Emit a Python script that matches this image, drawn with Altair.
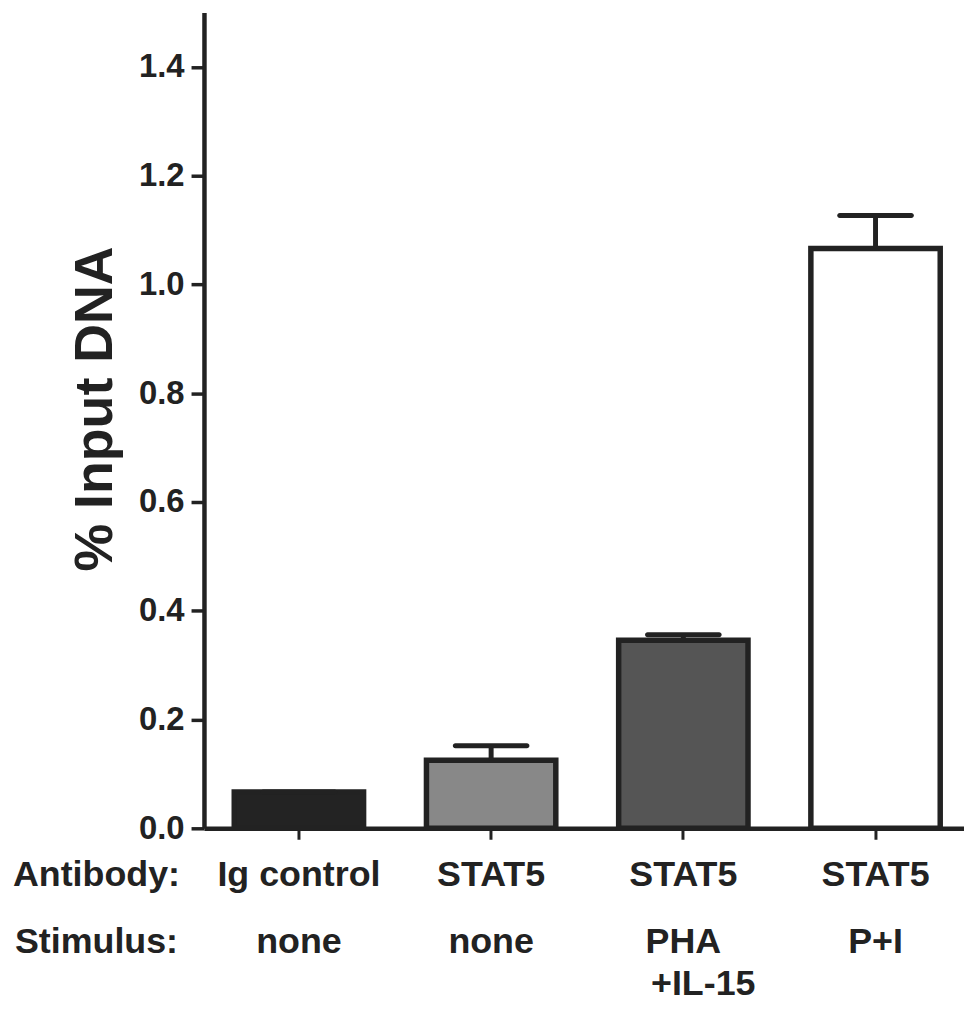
import altair as alt
import pandas as pd

# ---- data ----
groups = ["g1", "g2", "g3", "g4"]
antibody = ["Ig control", "STAT5", "STAT5", "STAT5"]
stimulus = ["none", "none", "PHA", "P+I"]
stimulus_line2 = ["", "", "+IL-15", ""]
values = [0.067, 0.125, 0.346, 1.066]
errors = [0.0, 0.027, 0.010, 0.061]
fills = ["#232323", "#888888", "#555555", "#ffffff"]
y_ticks = [0.0, 0.2, 0.4, 0.6, 0.8, 1.0, 1.2, 1.4]
row_labels = ["Antibody:", "Stimulus:"]

df = pd.DataFrame({
    "group": groups,
    "antibody": antibody,
    "stimulus": stimulus,
    "stimulus2": stimulus_line2,
    "value": values,
    "err": errors,
    "fill": fills,
})
df["upper"] = df["value"] + df["err"]

FONT = "Liberation Sans, Arial, Helvetica, sans-serif"
INK = "#222222"

xscale = alt.Scale(domain=groups, paddingInner=0.327, paddingOuter=0.1406, align=0.56)
x_axis = alt.Axis(labels=False, title=None, domainColor=INK, domainWidth=4.5,
                  tickColor=INK, tickWidth=3, tickSize=11, grid=False)
x_enc = alt.X("group:N", scale=xscale, axis=x_axis)
x_plain = alt.X("group:N", scale=xscale)

yscale = alt.Scale(domain=[0, 1.5], nice=False, zero=True)
y_axis = alt.Axis(values=y_ticks, format=".1f", grid=False,
                  labelFont=FONT, labelFontSize=33, labelFontWeight="bold",
                  labelColor=INK, labelPadding=7,
                  tickSize=13, tickWidth=3.5, tickColor=INK,
                  domainColor=INK, domainWidth=4.5,
                  title="% Input DNA", titleFont=FONT, titleFontSize=54,
                  titleFontWeight="bold", titleColor=INK,
                  titleAngle=270, titleAlign="center", titleBaseline="alphabetic",
                  titleX=-93, titleY=398)

base = alt.Chart(df)

bars = base.mark_bar(stroke=INK, strokeWidth=5.5).encode(
    x=x_enc,
    y=alt.Y("value:Q", scale=yscale, axis=y_axis),
    fill=alt.Fill("fill:N", scale=None),
)

stems = base.mark_rule(color=INK, strokeWidth=5).encode(
    x=x_plain,
    y=alt.Y("value:Q", scale=yscale),
    y2="upper:Q",
)

caps = base.mark_tick(color=INK, size=77, thickness=5, cornerRadius=2.5, opacity=1).encode(
    x=x_plain,
    y=alt.Y("upper:Q", scale=yscale),
)

text_style = dict(font=FONT, fontSize=36, fontWeight="bold", color=INK, baseline="alphabetic")

ab_text = base.mark_text(align="center", **text_style).encode(
    x=x_plain, y=alt.value(878), text="antibody:N"
)
st_text = base.mark_text(align="center", **text_style).encode(
    x=x_plain, y=alt.value(945), text="stimulus:N"
)
st2_text = base.mark_text(align="center", dx=20, **text_style).encode(
    x=x_plain, y=alt.value(988), text="stimulus2:N"
)

row1 = alt.Chart(pd.DataFrame({"label": [row_labels[0]]})).mark_text(
    align="left", **text_style).encode(x=alt.value(-192), y=alt.value(878), text="label:N")
row2 = alt.Chart(pd.DataFrame({"label": [row_labels[1]]})).mark_text(
    align="left", **text_style).encode(x=alt.value(-190), y=alt.value(945), text="label:N")

chart = alt.layer(bars, stems, caps, ab_text, st_text, st2_text, row1, row2).properties(
    width=764,
    height=820,
    padding={"left": 197, "top": 2, "right": 0, "bottom": 172},
    autosize=alt.AutoSizeParams(type="none"),
    background="white",
).configure_view(stroke=None)

chart.save("out.html", embed_options={"renderer": "svg", "actions": False})
